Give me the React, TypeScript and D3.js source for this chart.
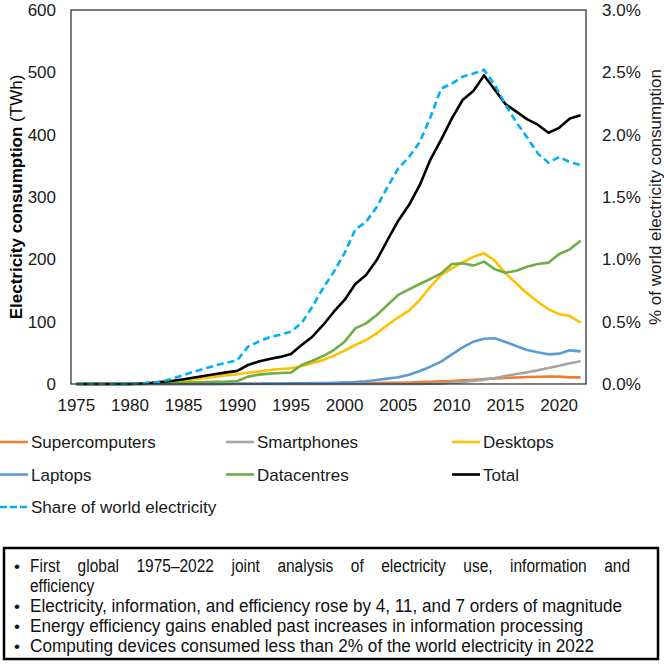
import React, { useEffect, useRef } from "react";
import * as d3 from "d3";

const YEARS = d3.range(1975, 2023);
const X_TICKS = [1975, 1980, 1985, 1990, 1995, 2000, 2005, 2010, 2015, 2020];
const Y_TICKS = [0, 100, 200, 300, 400, 500, 600];
const SHARE_TICKS = [0, 0.5, 1, 1.5, 2, 2.5, 3];

// TWh per year, 1975–2022
const supercomputers = [
  0, 0, 0, 0, 0, 0, 0, 0, 0.1, 0.1,
  0.1, 0.1, 0.2, 0.2, 0.2, 0.3, 0.3, 0.4, 0.4, 0.5,
  0.5, 0.6, 0.7, 0.8, 0.9, 1.0, 1.2, 1.4, 1.7, 1.9,
  2.1, 2.5, 3.0, 3.7, 4.2, 4.8, 6.0, 6.8, 8.0, 8.8,
  9.6, 10.4, 11.2, 11.6, 11.8, 11.8, 10.7, 10.7,
];
const smartphones = [
  0, 0, 0, 0, 0, 0, 0, 0, 0, 0,
  0, 0, 0, 0, 0, 0, 0, 0, 0, 0,
  0, 0, 0, 0, 0, 0, 0, 0, 0, 0,
  0, 0, 0.1, 0.5, 1.0, 2.0, 3.2, 4.8, 7.0, 9.6,
  12.8, 16.0, 18.7, 21.9, 25.7, 29.4, 33.2, 36.4,
];
const desktops = [
  0, 0, 0, 0, 0, 0, 0.5, 1.2, 2.2, 3.6,
  5.3, 7.5, 9.6, 11.8, 14.0, 15.5, 18.0, 20.0, 22.5, 24.0,
  25.1, 28.9, 33.2, 38.5, 45.5, 53.5, 62.6, 70.6, 81.3, 94.7,
  107, 117.7, 134.8, 156, 175, 185.6, 195, 204, 209.6, 198,
  177.5, 161.5, 145.5, 132, 120, 112, 109, 98.4,
];
const laptops = [
  0, 0, 0, 0, 0, 0, 0, 0, 0, 0.1,
  0.1, 0.1, 0.2, 0.2, 0.3, 0.3, 0.4, 0.5, 0.6, 0.8,
  1.0, 1.2, 1.4, 1.7, 2.1, 2.7, 3.2, 4.3, 6.4, 8.6,
  10.7, 15.0, 20.9, 27.8, 35.8, 47.6, 58.8, 67.9, 72.7, 73.3,
  67.4, 61.0, 54.5, 50.8, 47.6, 48.7, 54.0, 52.4,
];
const datacentres = [
  0, 0, 0, 0, 0, 0, 0.2, 0.5, 0.9, 1.4,
  2.0, 2.7, 3.2, 3.7, 4.0, 4.8, 11.8, 15.0, 16.6, 17.6,
  18.2, 30.5, 37.4, 44.9, 54.5, 67.9, 89.3, 97.3, 110.7, 126.7,
  143, 151.9, 160.4, 168.5, 177.5, 192.5, 193.6, 189.9, 196.3, 184,
  178.6, 181.8, 188.2, 192.5, 194.7, 208.6, 216, 230,
];
const total = [
  0, 0, 0, 0, 0, 0.1, 0.8, 1.9, 3.4, 5.2,
  7.6, 10.4, 13.2, 16.0, 18.6, 21.0, 30.5, 36.0, 40.0, 43.5,
  48.1, 62.6, 75.9, 94.7, 116, 134.8, 160.4, 174.9, 198.9, 231,
  262, 287, 319, 360, 392, 426, 455.6, 470, 495, 472,
  449, 437, 425, 416, 403, 411, 426, 431,
];
// % of world electricity consumption
const share = [
  0, 0, 0, 0, 0, 0, 0.004, 0.01, 0.02, 0.045,
  0.072, 0.1, 0.125, 0.15, 0.17, 0.19, 0.3, 0.34, 0.375, 0.395,
  0.42, 0.49, 0.62, 0.77, 0.9, 1.05, 1.24, 1.3, 1.42, 1.58,
  1.73, 1.82, 1.94, 2.14, 2.37, 2.41, 2.465, 2.49, 2.52, 2.4,
  2.24, 2.1, 1.98, 1.85, 1.775, 1.82, 1.78, 1.757,
];

const SERIES = [
  { name: "Supercomputers", values: supercomputers, color: "#ED7D31", right: false, dashed: false },
  { name: "Smartphones", values: smartphones, color: "#A5A5A5", right: false, dashed: false },
  { name: "Desktops", values: desktops, color: "#FFC000", right: false, dashed: false },
  { name: "Laptops", values: laptops, color: "#5B9BD5", right: false, dashed: false },
  { name: "Datacentres", values: datacentres, color: "#70AD47", right: false, dashed: false },
  { name: "Total", values: total, color: "#000000", right: false, dashed: false },
  { name: "Share of world electricity", values: share, color: "#00B0F0", right: true, dashed: true },
];

const NOTES = [
  "Electricity, information, and efficiency rose by 4, 11, and 7 orders of magnitude",
  "Energy efficiency gains enabled past increases in information processing",
  "Computing devices consumed less than 2% of the world electricity in 2022",
];
const FIRST_NOTE = "First global 1975–2022 joint analysis of electricity use, information and";
const FIRST_NOTE_WRAP = "efficiency";

const W = 664;
const H = 664;
const FONT = "'Liberation Sans', Arial, sans-serif";
const NARROW = "'Liberation Sans Narrow', 'Arial Narrow', 'Liberation Sans', Arial, sans-serif";
const NOTE_SIZE = "18px";
const SQUEEZE = 0.86; // narrow face approximation for the summary box

const App: React.FC = () => {
  const ref = useRef<SVGSVGElement>(null);

  useEffect(() => {
    if (!ref.current) return;
    const svg = d3.select(ref.current);
    svg.selectAll("*").remove();

    const plot = { left: 71, right: 586, top: 10, bottom: 384 };

    const x = d3
      .scalePoint<number>()
      .domain(YEARS)
      .range([plot.left, plot.right])
      .padding(0.5);
    const y = d3.scaleLinear().domain([0, 600]).range([plot.bottom, plot.top]);
    const yShare = d3.scaleLinear().domain([0, 3]).range([plot.bottom, plot.top]);

    svg.append("rect").attr("width", W).attr("height", H).attr("fill", "#fff");

    // Tick labels
    svg
      .append("g")
      .selectAll("text")
      .data(Y_TICKS)
      .enter()
      .append("text")
      .attr("x", 56)
      .attr("y", (d) => y(d) + 6)
      .attr("text-anchor", "end")
      .style("font-family", FONT)
      .style("font-size", "17px")
      .attr("fill", "#1a1a1a")
      .text((d) => d);

    svg
      .append("g")
      .selectAll("text")
      .data(SHARE_TICKS)
      .enter()
      .append("text")
      .attr("x", 602)
      .attr("y", (d) => yShare(d) + 6)
      .style("font-family", FONT)
      .style("font-size", "17px")
      .attr("fill", "#1a1a1a")
      .text((d) => `${d.toFixed(1)}%`);

    svg
      .append("g")
      .selectAll("text")
      .data(X_TICKS)
      .enter()
      .append("text")
      .attr("x", (d) => x(d) as number)
      .attr("y", 411)
      .attr("text-anchor", "middle")
      .style("font-family", FONT)
      .style("font-size", "17px")
      .attr("fill", "#1a1a1a")
      .text((d) => d);

    // Axis titles
    const leftTitle = svg
      .append("text")
      .attr("transform", `translate(22,${(plot.top + plot.bottom) / 2}) rotate(-90)`)
      .attr("text-anchor", "middle")
      .style("font-family", FONT)
      .style("font-size", "17px")
      .attr("fill", "#000");
    leftTitle.append("tspan").style("font-weight", "bold").text("Electricity consumption");
    leftTitle.append("tspan").text(" (TWh)");

    svg
      .append("text")
      .attr("transform", `translate(661,${(plot.top + plot.bottom) / 2}) rotate(-90)`)
      .attr("text-anchor", "middle")
      .style("font-family", FONT)
      .style("font-size", "17px")
      .attr("fill", "#1a1a1a")
      .text("% of world electricity consumption");

    // Lines
    SERIES.forEach((s) => {
      const scale = s.right ? yShare : y;
      const line = d3
        .line<number>()
        .x((_, i) => x(YEARS[i]) as number)
        .y((d) => scale(d));
      svg
        .append("path")
        .datum(s.values)
        .attr("fill", "none")
        .attr("stroke", s.color)
        .attr("stroke-width", 2.6)
        .attr("stroke-linejoin", "round")
        .attr("stroke-dasharray", s.dashed ? "7 4" : null)
        .attr("d", line);
    });

    // Plot frame
    svg
      .append("rect")
      .attr("x", plot.left)
      .attr("y", plot.top)
      .attr("width", plot.right - plot.left)
      .attr("height", plot.bottom - plot.top)
      .attr("fill", "none")
      .attr("stroke", "#262626")
      .attr("stroke-width", 1.2);

    // Legend, three columns
    const legend = svg.append("g");
    SERIES.forEach((s, i) => {
      const col = i % 3;
      const row = Math.floor(i / 3);
      const lx = col * 226;
      const ly = 442 + row * 32.5;
      legend
        .append("line")
        .attr("x1", lx)
        .attr("x2", lx + 28)
        .attr("y1", ly)
        .attr("y2", ly)
        .attr("stroke", s.color)
        .attr("stroke-width", 2.6)
        .attr("stroke-dasharray", s.dashed ? "7 3" : null);
      legend
        .append("text")
        .attr("x", lx + 31)
        .attr("y", ly + 6)
        .style("font-family", FONT)
        .style("font-size", "17px")
        .attr("fill", "#1a1a1a")
        .text(s.name);
    });

    // Summary box
    const box = svg.append("g");
    box
      .append("rect")
      .attr("x", 4)
      .attr("y", 548)
      .attr("width", 654)
      .attr("height", 111)
      .attr("fill", "#fff")
      .attr("stroke", "#000")
      .attr("stroke-width", 2.5);

    const textX = 30;
    const bulletX = 14;
    const lineYs = [572, 592, 612, 632, 652];
    const noteWidths = [592, 553, 564];

    [0, 2, 3, 4].forEach((li) => {
      box
        .append("text")
        .attr("x", bulletX)
        .attr("y", lineYs[li])
        .style("font-family", NARROW)
        .style("font-size", "17px")
        .attr("fill", "#111")
        .text("•");
    });

    const noteText = (t: string, yy: number) =>
      box
        .append("text")
        .attr("y", yy)
        .attr("lengthAdjust", "spacingAndGlyphs")
        .style("font-family", NARROW)
        .style("font-size", NOTE_SIZE)
        .attr("fill", "#111")
        .text(t);

    // First note is justified across the box, word by word
    const words = FIRST_NOTE.split(" ");
    const wordNodes = words.map((w) => noteText(w, lineYs[0]));
    const widths = wordNodes.map(
      (n) => (n.node() as SVGTextElement).getComputedTextLength() * SQUEEZE
    );
    const span = 600;
    const gap = (span - d3.sum(widths)) / (words.length - 1);
    let cx = textX;
    wordNodes.forEach((n, i) => {
      n.attr("x", cx).attr("textLength", widths[i]);
      cx += widths[i] + gap;
    });

    const wrap = noteText(FIRST_NOTE_WRAP, lineYs[1]).attr("x", textX);
    wrap.attr(
      "textLength",
      (wrap.node() as SVGTextElement).getComputedTextLength() * SQUEEZE
    );

    NOTES.forEach((t, i) => {
      noteText(t, lineYs[i + 2]).attr("x", textX).attr("textLength", noteWidths[i]);
    });
  }, []);

  return (
    <svg
      ref={ref}
      width={W}
      height={H}
      viewBox={`0 0 ${W} ${H}`}
      style={{ position: "absolute", left: 0, top: 0, display: "block" }}
    />
  );
};

export default App;
